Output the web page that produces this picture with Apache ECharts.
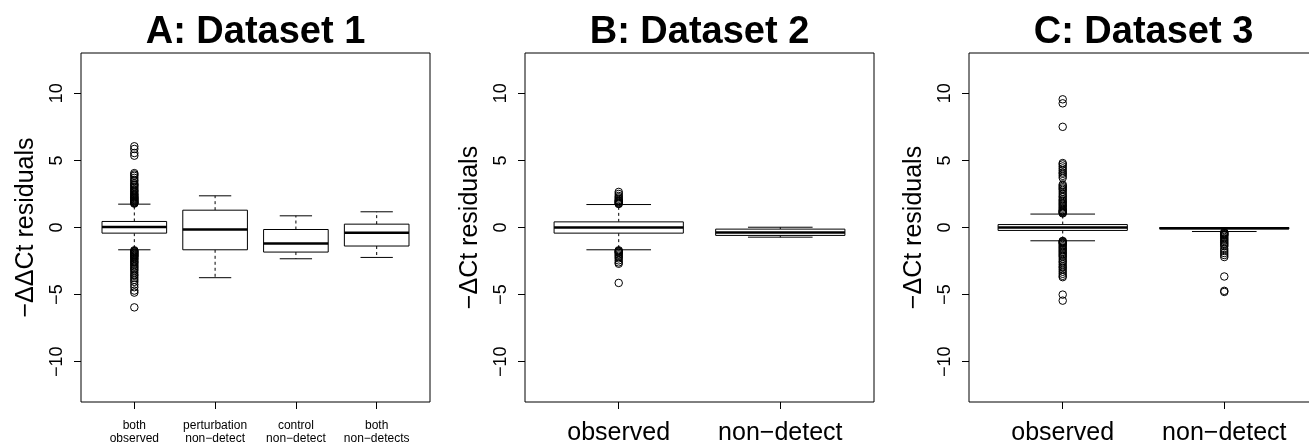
<!DOCTYPE html>
<html>
<head>
<meta charset="utf-8">
<title>Residuals by detection status</title>
<script src="https://cdn.jsdelivr.net/npm/echarts@6/dist/echarts.min.js"></script>
<style>
  html, body { margin: 0; padding: 0; background: #fff; }
  #chart { width: 1309px; height: 443px; }
</style>
</head>
<body>
<div id="chart"></div>
<script>
// category names (x axis labels)
const catsA = ["both\nobserved", "perturbation\nnon\u2212detect", "control\nnon\u2212detect", "both\nnon\u2212detects"];
const catsBC = ["observed", "non\u2212detect"];
const yTicks = [-10, -5, 0, 5, 10];

// box stats per category: [lower whisker, Q1, median, Q3, upper whisker]
const statsA = [
  [-1.66, -0.42, 0.03, 0.45, 1.74],
  [-3.74, -1.66, -0.15, 1.29, 2.36],
  [-2.33, -1.83, -1.19, -0.15, 0.87],
  [-2.23, -1.38, -0.39, 0.25, 1.17]
];
const statsB = [
  [-1.66, -0.42, 0.0, 0.42, 1.71],
  [-0.72, -0.59, -0.37, -0.12, 0.02]
];
const statsC = [
  [-0.99, -0.22, 0.0, 0.22, 1.0],
  [-0.3, -0.1, -0.05, 0.0, 0.0]
];

// outliers per category
const outA = [
  [1.78, 1.82, 1.86, 1.9, 1.95, 2.0, 2.05, 2.1, 2.15, 2.2, 2.26, 2.3, 2.38, 2.45, 2.5, 2.6, 2.7, 2.75,
   2.85, 2.95, 3.05, 3.15, 3.2, 3.3, 3.45, 3.55, 3.7, 3.85, 3.95, 4.05, 5.35, 5.55, 5.85, 6.05,
   -1.7, -1.75, -1.8, -1.85, -1.9, -1.95, -2.0, -2.05, -2.1, -2.15, -2.2, -2.3, -2.35, -2.45, -2.55,
   -2.6, -2.7, -2.8, -2.9, -3.0, -3.1, -3.2, -3.35, -3.5, -3.6, -3.75, -3.9, -4.05, -4.25, -4.45,
   -4.7, -4.85, -5.95],
  [],
  [],
  []
];
const outB = [
  [1.75, 1.8, 1.85, 1.9, 1.95, 2.0, 2.05, 2.15, 2.25, 2.35, 2.5, 2.65,
   -1.7, -1.75, -1.8, -1.85, -1.9, -2.0, -2.1, -2.2, -2.3, -2.45, -2.6, -2.7, -4.13],
  []
];
const outC = [
  [1.05, 1.1, 1.15, 1.2, 1.25, 1.3, 1.4, 1.5, 1.6, 1.7, 1.8, 1.9, 2.0, 2.1, 2.25, 2.35, 2.5, 2.65,
   2.8, 2.9, 3.0, 3.1, 3.2, 3.7, 3.85, 4.0, 4.1, 4.25, 4.4, 4.55, 4.7, 4.8, 7.5, 9.25, 9.55,
   -1.0, -1.05, -1.1, -1.15, -1.2, -1.3, -1.4, -1.5, -1.6, -1.7, -1.8, -1.9, -2.0, -2.1, -2.2,
   -2.35, -2.5, -2.6, -2.75, -2.9, -3.0, -3.15, -3.3, -3.45, -3.6, -3.7, -5.0, -5.45],
  [-0.35, -0.4, -0.45, -0.5, -0.55, -0.6, -0.7, -0.8, -0.9, -1.0, -1.1, -1.2, -1.3, -1.4, -1.6,
   -1.75, -1.9, -2.05, -2.2, -3.65, -4.72, -4.8]
];

const FONT = "Liberation Sans, Arial, Helvetica, sans-serif";
const BOX_WEX = 0.8;
const PLOT_W = 349;

// third panel runs past the right edge (cropped like the original)
const panels = [
  { title: "A: Dataset 1", yName: "\u2212\u0394\u0394Ct residuals", cats: catsA, stats: statsA, out: outA, left: 81, small: true },
  { title: "B: Dataset 2", yName: "\u2212\u0394Ct residuals", cats: catsBC, stats: statsB, out: outB, left: 525, small: false },
  { title: "C: Dataset 3", yName: "\u2212\u0394Ct residuals", cats: catsBC, stats: statsC, out: outC, left: 969, small: false }
];

// R-style box: dashed whiskers, short staples, thick median
const renderBox = (params, api) => {
  const x = api.value(0);
  const lo = api.coord([x, api.value(1)]);
  const q1 = api.coord([x, api.value(2)]);
  const med = api.coord([x, api.value(3)]);
  const q3 = api.coord([x, api.value(4)]);
  const hi = api.coord([x, api.value(5)]);
  const w = api.size([BOX_WEX, 0])[0];
  const cx = lo[0];
  const line = (x1, y1, x2, y2, lw, dash) => ({
    type: "line",
    shape: { x1, y1, x2, y2 },
    style: { stroke: "#000", lineWidth: lw, lineDash: dash || null }
  });
  return {
    type: "group",
    children: [
      line(cx, q3[1], cx, hi[1], 1, [3, 3]),
      line(cx, q1[1], cx, lo[1], 1, [3, 3]),
      line(cx - w / 4, hi[1], cx + w / 4, hi[1], 1),
      line(cx - w / 4, lo[1], cx + w / 4, lo[1], 1),
      {
        type: "rect",
        shape: { x: cx - w / 2, y: q3[1], width: w, height: q1[1] - q3[1] },
        style: { fill: "#fff", stroke: "#000", lineWidth: 1 }
      },
      line(cx - w / 2, med[1], cx + w / 2, med[1], 2.5)
    ]
  };
};

const grids = [], xAxes = [], yAxes = [], series = [], graphics = [];

panels.forEach((p, i) => {
  const n = p.cats.length;
  // R pads xlim (0.5, n + 0.5) by 4%
  const xmin = 0.5 - n * 0.04, xmax = n + 0.5 + n * 0.04;
  const ticks = p.cats.map((c, k) => k + 1);

  grids.push({
    left: p.left, top: 53, height: 349, width: PLOT_W,
    outerBoundsMode: "none",
    containLabel: false,
    show: true, borderColor: "#000", borderWidth: 1, backgroundColor: "transparent"
  });

  xAxes.push({
    gridIndex: i,
    type: "value",
    min: xmin,
    max: xmax,
    axisLine: { show: false, onZero: false },
    splitLine: { show: false },
    axisTick: { show: true, customValues: ticks, length: 7, lineStyle: { color: "#000" } },
    axisLabel: {
      customValues: ticks,
      formatter: (v) => p.cats[Math.round(v) - 1],
      color: "#000",
      fontFamily: FONT,
      fontSize: p.small ? 12 : 25,
      lineHeight: p.small ? 13 : 25,
      margin: p.small ? 17 : 19
    }
  });

  yAxes.push({
    gridIndex: i,
    type: "value",
    min: -13,
    max: 13,
    name: p.yName,
    nameLocation: "middle",
    nameRotate: 90,
    nameGap: 42,
    nameTextStyle: { color: "#000", fontFamily: FONT, fontSize: 25 },
    axisLine: { show: false, onZero: false },
    splitLine: { show: false },
    axisTick: { show: true, customValues: yTicks, length: 7, lineStyle: { color: "#000" } },
    axisLabel: {
      customValues: yTicks,
      rotate: 90,
      formatter: (v) => String(v).replace("-", "\u2212"),
      color: "#000",
      fontFamily: FONT,
      fontSize: 18,
      margin: 15
    }
  });

  series.push({
    type: "custom",
    xAxisIndex: i,
    yAxisIndex: i,
    renderItem: renderBox,
    silent: true,
    data: p.stats.map((s, k) => [k + 1].concat(s))
  });

  series.push({
    type: "scatter",
    xAxisIndex: i,
    yAxisIndex: i,
    symbol: "circle",
    symbolSize: 7.5,
    silent: true,
    itemStyle: { color: "transparent", borderColor: "#000", borderWidth: 1, opacity: 1 },
    data: p.out.flatMap((vals, k) => vals.map((v) => [k + 1, v]))
  });

  graphics.push({
    type: "text",
    x: p.left + PLOT_W / 2,
    y: 33,
    style: {
      text: p.title,
      align: "center",
      verticalAlign: "middle",
      fill: "#000",
      font: "bold 38px " + FONT
    }
  });
});

const chart = echarts.init(document.getElementById("chart"));
chart.setOption({
  animation: false,
  backgroundColor: "#fff",
  grid: grids,
  xAxis: xAxes,
  yAxis: yAxes,
  series: series,
  graphic: graphics
});
</script>
</body>
</html>
